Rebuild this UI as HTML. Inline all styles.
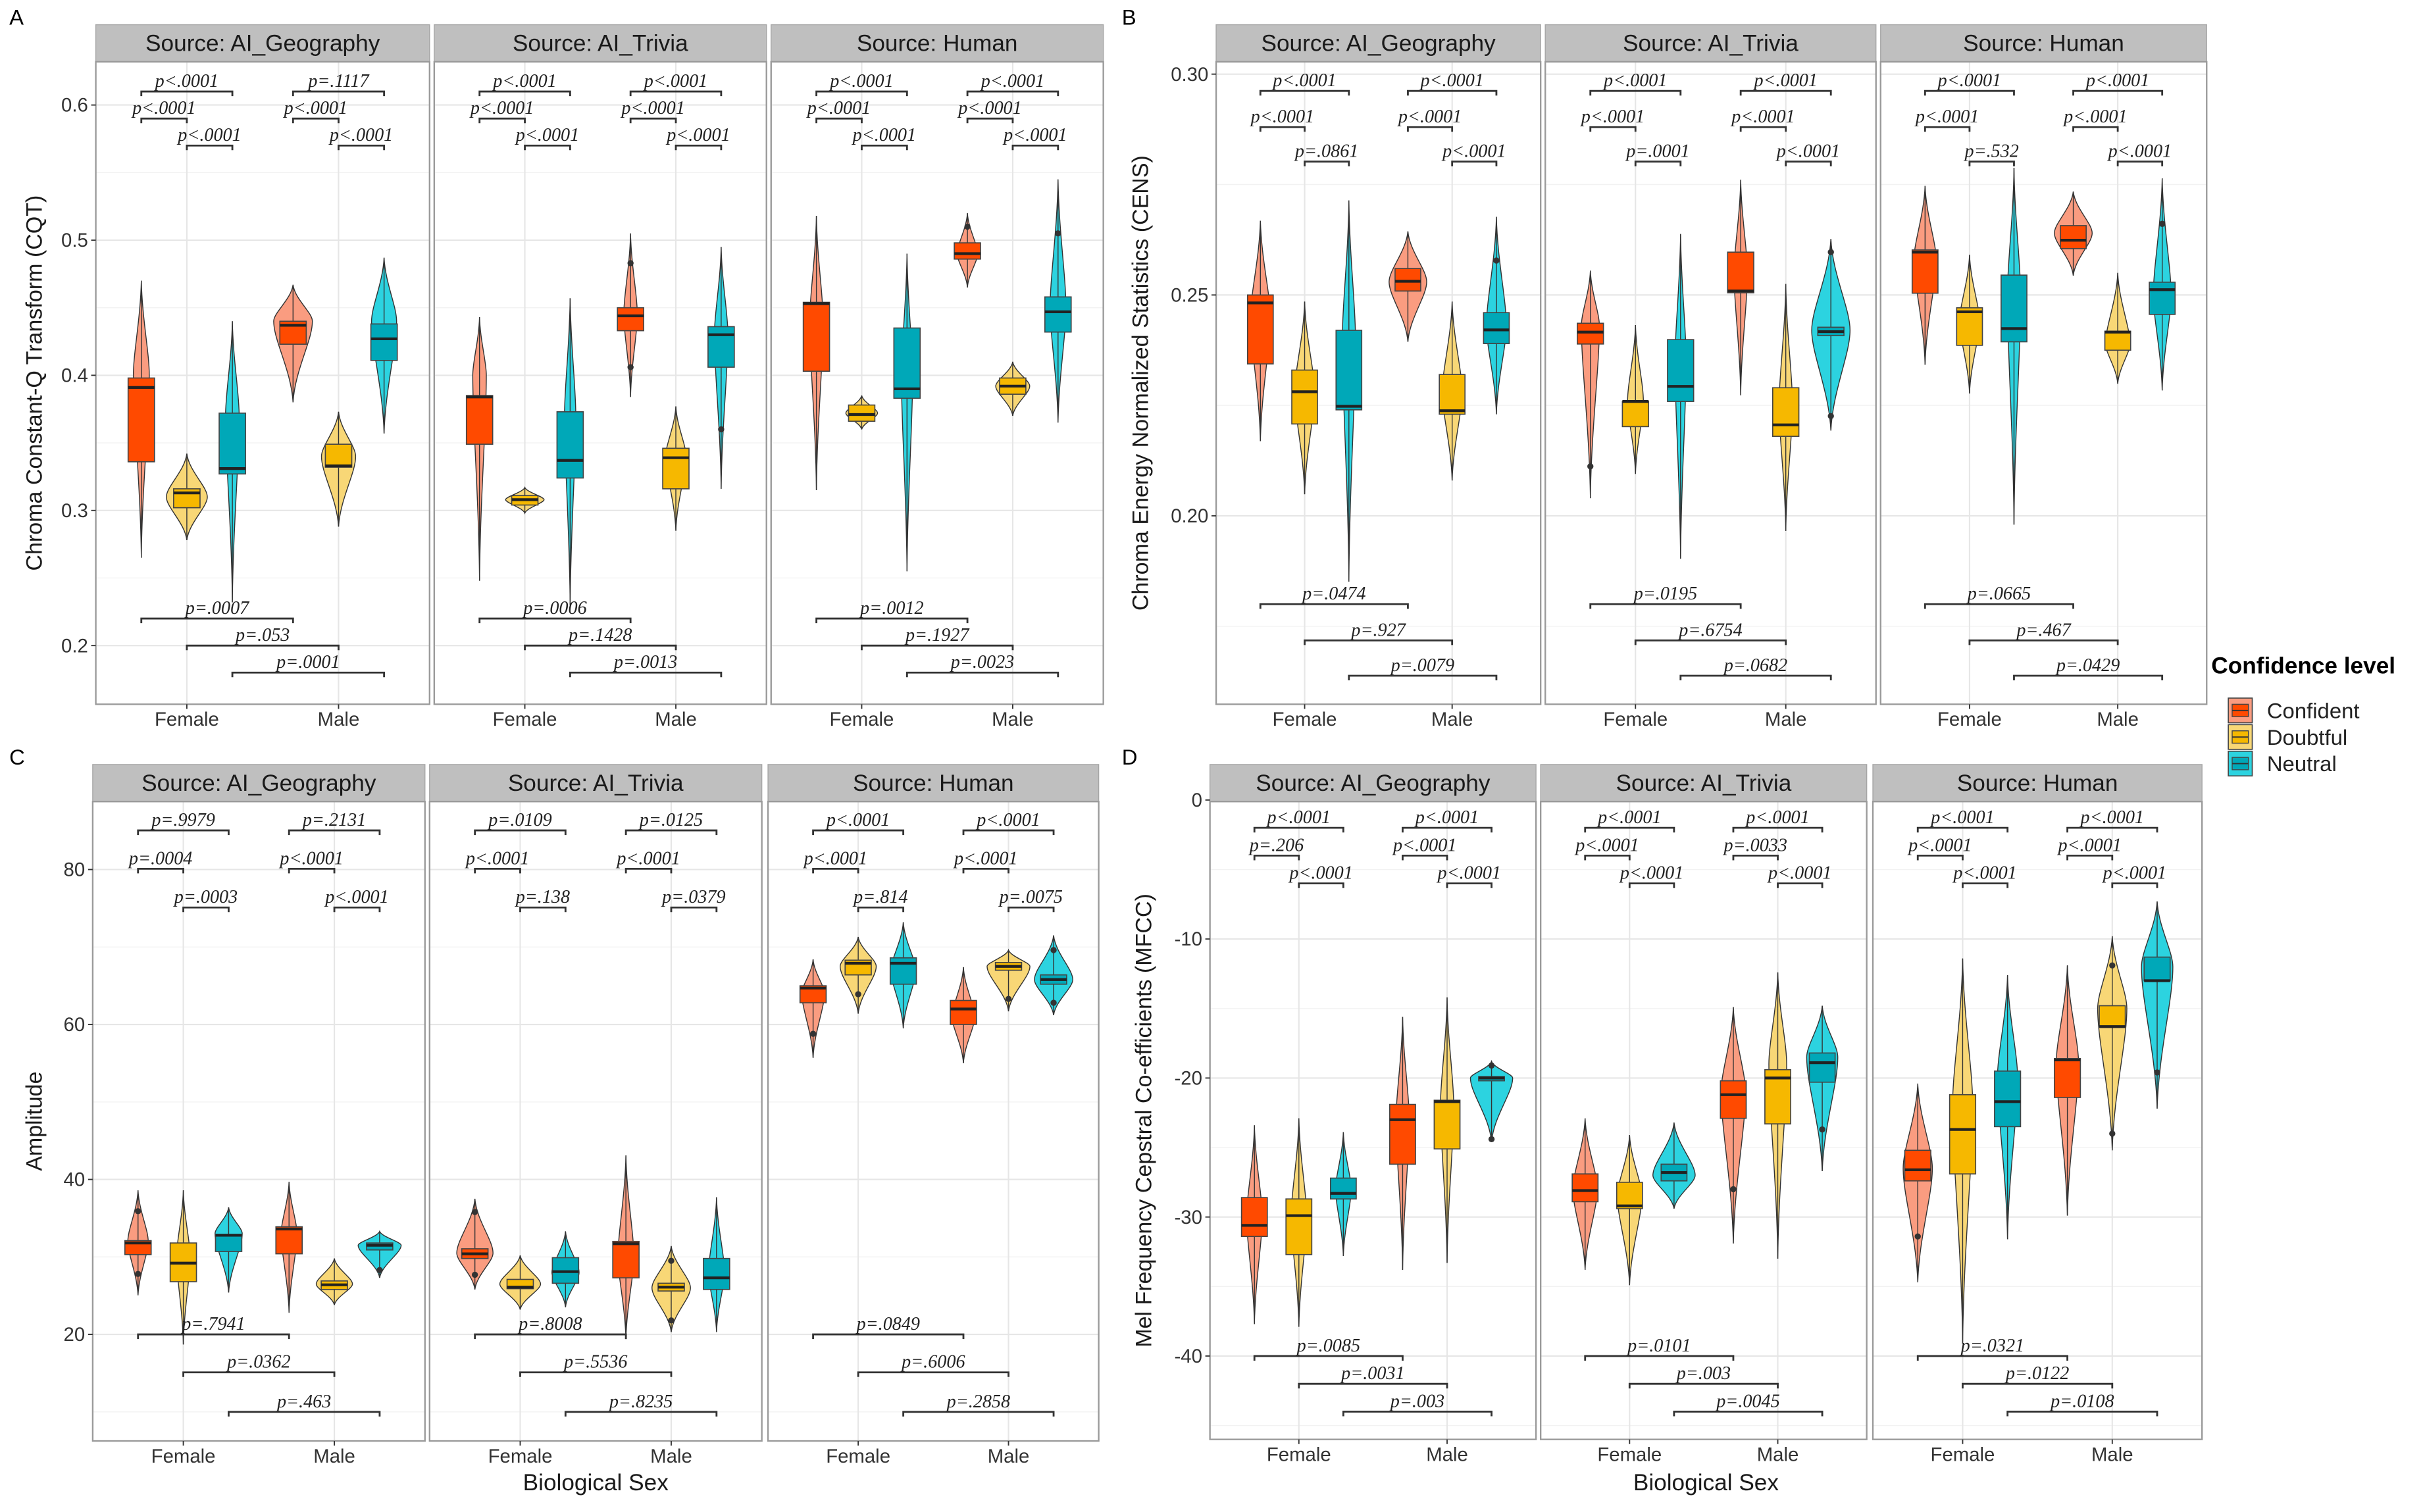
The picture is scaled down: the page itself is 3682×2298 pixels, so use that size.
<!DOCTYPE html>
<html><head><meta charset="utf-8"><style>
html,body{margin:0;padding:0;background:#fff;}
svg{display:block;}
</style></head><body>
<svg id="chart" xmlns="http://www.w3.org/2000/svg" width="3682" height="2298" viewBox="0 0 1568 979" preserveAspectRatio="none"></svg>
<script>
// ---------- shared categories ----------
const facetNames = ["Source: AI_Geography","Source: AI_Trivia","Source: Human"];
const sexes = ["Female","Male"];
const levels = ["Confident","Doubtful","Neutral"];
// group order per facet: F-Conf, F-Doubt, F-Neut, M-Conf, M-Doubt, M-Neut

// ---------- Panel A (CQT) ----------
const A_q1 = [[0.336,0.302,0.327,0.423,0.332,0.411],[0.349,0.304,0.324,0.433,0.316,0.406],[0.403,0.366,0.383,0.486,0.386,0.432]];
const A_med = [[0.391,0.313,0.331,0.437,0.333,0.427],[0.384,0.308,0.337,0.444,0.339,0.430],[0.453,0.371,0.390,0.490,0.392,0.447]];
const A_q3 = [[0.398,0.316,0.372,0.440,0.349,0.438],[0.385,0.311,0.373,0.450,0.346,0.436],[0.454,0.378,0.435,0.498,0.398,0.458]];
const A_vmin = [[0.265,0.278,0.232,0.380,0.288,0.357],[0.248,0.298,0.230,0.384,0.285,0.316],[0.315,0.360,0.255,0.465,0.370,0.365]];
const A_vmax = [[0.470,0.342,0.440,0.467,0.373,0.487],[0.443,0.317,0.457,0.505,0.377,0.495],[0.518,0.385,0.490,0.520,0.410,0.545]];
const A_vmode = [[0.400,0.310,0.370,0.440,0.340,0.440],[0.400,0.308,0.370,0.445,0.340,0.430],[0.440,0.372,0.400,0.490,0.392,0.450]];
const A_vw = [[0.35,0.9,0.3,0.85,0.75,0.55],[0.3,0.85,0.25,0.3,0.45,0.3],[0.3,0.7,0.25,0.45,0.75,0.35]];
const A_out = [[],[[3,0.483],[3,0.406],[5,0.36]],[[3,0.51],[5,0.505]]];
const A_pF = [["p<.0001","p<.0001","p<.0001"],["p<.0001","p<.0001","p<.0001"],["p<.0001","p<.0001","p<.0001"]];
const A_pM = [["p=.1117","p<.0001","p<.0001"],["p<.0001","p<.0001","p<.0001"],["p<.0001","p<.0001","p<.0001"]];
const A_pB = [["p=.0007","p=.053","p=.0001"],["p=.0006","p=.1428","p=.0013"],["p=.0012","p=.1927","p=.0023"]];
const A_ticks = [0.2,0.3,0.4,0.5,0.6];
const A_tickLabels = ["0.2","0.3","0.4","0.5","0.6"];

// ---------- Panel B (CENS) ----------
const B_q1 = [[0.2344,0.2208,0.224,0.2509,0.223,0.239],[0.2389,0.2202,0.2259,0.2505,0.218,0.2408],[0.2504,0.2386,0.2394,0.2605,0.2375,0.2456]];
const B_med = [[0.2482,0.2281,0.2248,0.2531,0.2238,0.2421],[0.2416,0.2259,0.2293,0.2509,0.2206,0.2417],[0.2597,0.2462,0.2424,0.2624,0.2416,0.2512]];
const B_q3 = [[0.250,0.233,0.242,0.256,0.232,0.246],[0.2436,0.2259,0.2399,0.2597,0.229,0.2427],[0.2602,0.2471,0.2545,0.2657,0.2418,0.2529]];
const B_vmin = [[0.2169,0.2049,0.1851,0.2394,0.208,0.223],[0.204,0.2095,0.1903,0.2273,0.1966,0.2193],[0.2342,0.2277,0.198,0.2544,0.2299,0.2284]];
const B_vmax = [[0.2668,0.2485,0.2714,0.2644,0.2485,0.2677],[0.2555,0.2432,0.2638,0.2761,0.2525,0.2627],[0.2747,0.2591,0.2788,0.2734,0.255,0.2764]];
const B_vmode = [[0.245,0.228,0.24,0.253,0.228,0.243],[0.243,0.226,0.235,0.255,0.225,0.242],[0.258,0.244,0.25,0.264,0.239,0.25]];
const B_vw = [[0.45,0.45,0.3,0.85,0.45,0.45],[0.4,0.35,0.25,0.3,0.3,0.85],[0.5,0.45,0.3,0.85,0.55,0.4]];
const B_out = [[[5,0.2578]],[[0,0.2112],[5,0.2597],[5,0.2226]],[[5,0.2661]]];
const B_pF = [["p<.0001","p<.0001","p=.0861"],["p<.0001","p<.0001","p=.0001"],["p<.0001","p<.0001","p=.532"]];
const B_pM = [["p<.0001","p<.0001","p<.0001"],["p<.0001","p<.0001","p<.0001"],["p<.0001","p<.0001","p<.0001"]];
const B_pB = [["p=.0474","p=.927","p=.0079"],["p=.0195","p=.6754","p=.0682"],["p=.0665","p=.467","p=.0429"]];
const B_ticks = [0.20,0.25,0.30];
const B_tickLabels = ["0.20","0.25","0.30"];

// ---------- Panel C (Amplitude) ----------
const C_q1 = [[30.3,26.8,30.7,30.4,25.8,30.9],[29.8,25.9,26.6,27.3,25.6,25.8],[62.8,66.4,65.2,60.0,67.0,65.2]];
const C_med = [[31.8,29.2,32.8,33.6,26.4,31.5],[30.4,26.1,28.1,31.7,26.1,27.3],[64.7,67.9,67.9,62.0,67.5,65.8]];
const C_q3 = [[32.1,31.8,32.9,33.9,26.9,31.8],[31.05,27.1,29.9,32.0,26.6,29.8],[65.0,68.3,68.6,63.1,68.0,66.4]];
const C_vmin = [[25.05,18.7,25.4,22.8,23.8,27.3],[25.8,23.2,23.5,19.4,20.3,20.3],[55.7,61.4,59.5,55.0,61.7,61.2]];
const C_vmax = [[38.6,38.6,36.4,39.7,29.8,33.3],[37.5,30.2,33.3,43.1,31.4,37.7],[68.4,71.3,73.2,67.4,69.6,71.5]];
const C_vmode = [[32,30,33,33,26.5,31.5],[30.5,26.5,28,30,26,28],[64,67.5,67,61,67.5,65.8]];
const C_vw = [[0.45,0.3,0.6,0.35,0.8,0.95],[0.8,0.9,0.6,0.35,0.85,0.35],[0.5,0.8,0.55,0.5,0.95,0.85]];
const C_out = [[[0,35.9],[0,27.8],[5,28.3]],[[0,35.8],[0,27.7],[4,29.5],[4,21.8]],[[0,58.8],[1,63.9],[4,63.3],[5,69.6],[5,62.8]]];
const C_pF = [["p=.9979","p=.0004","p=.0003"],["p=.0109","p<.0001","p=.138"],["p<.0001","p<.0001","p=.814"]];
const C_pM = [["p=.2131","p<.0001","p<.0001"],["p=.0125","p<.0001","p=.0379"],["p<.0001","p<.0001","p=.0075"]];
const C_pB = [["p=.7941","p=.0362","p=.463"],["p=.8008","p=.5536","p=.8235"],["p=.0849","p=.6006","p=.2858"]];
const C_ticks = [20,40,60,80];
const C_tickLabels = ["20","40","60","80"];

// ---------- Panel D (MFCC) ----------
const D_q1 = [[-31.4,-32.7,-28.7,-26.2,-25.1,-20.2],[-28.9,-29.4,-27.4,-22.9,-23.3,-20.3],[-27.4,-26.9,-23.5,-21.4,-16.3,-13.0]];
const D_med = [[-30.6,-29.9,-28.3,-23.0,-21.7,-20.0],[-28.1,-29.2,-26.8,-21.2,-20.0,-18.9],[-26.6,-23.7,-21.7,-18.7,-16.3,-13.0]];
const D_q3 = [[-28.6,-28.7,-27.2,-21.9,-21.6,-19.9],[-26.9,-27.5,-26.2,-20.2,-19.4,-18.2],[-25.2,-21.2,-19.5,-18.6,-14.8,-11.3]];
const D_vmin = [[-37.7,-37.9,-32.8,-33.8,-33.3,-24.6],[-33.8,-34.9,-29.4,-31.9,-33.0,-26.7],[-34.7,-39.1,-31.6,-29.9,-25.2,-22.2]];
const D_vmax = [[-23.4,-22.9,-23.9,-15.6,-14.2,-18.8],[-22.9,-24.1,-23.2,-14.9,-12.4,-14.8],[-20.4,-11.4,-12.6,-11.9,-9.8,-7.3]];
const D_vmode = [[-30,-30,-28,-23,-22,-20],[-28,-28.5,-27,-21,-19,-18.5],[-26.5,-22,-20,-19,-15,-12]];
const D_vw = [[0.35,0.35,0.35,0.3,0.3,0.95],[0.55,0.55,0.95,0.55,0.4,0.7],[0.65,0.45,0.45,0.5,0.65,0.7]];
const D_out = [[[5,-24.4],[5,-19.1]],[[3,-28],[5,-23.7]],[[0,-31.4],[4,-11.9],[4,-24],[5,-19.6]]];
const D_pF = [["p<.0001","p=.206","p<.0001"],["p<.0001","p<.0001","p<.0001"],["p<.0001","p<.0001","p<.0001"]];
const D_pM = [["p<.0001","p<.0001","p<.0001"],["p<.0001","p=.0033","p<.0001"],["p<.0001","p<.0001","p<.0001"]];
const D_pB = [["p=.0085","p=.0031","p=.003"],["p=.0101","p=.003","p=.0045"],["p=.0321","p=.0122","p=.0108"]];
const D_ticks = [-40,-30,-20,-10,0];
const D_tickLabels = ["-40","-30","-20","-10","0"];

// ---------- styles / layout ----------
const violinFill = ["#FA9C80","#F8D776","#2CD3E0"];
const boxFill = ["#FF4A00","#F6B800","#00A8B8"];
const NS = "http://www.w3.org/2000/svg";
const svg = document.getElementById('chart');
function mk(tag, attrs, parent){
  const e = document.createElementNS(NS, tag);
  for (const k in attrs) e.setAttribute(k, attrs[k]);
  (parent||svg).appendChild(e);
  return e;
}
function txt(str, attrs, parent){ const t = mk('text', attrs, parent); t.textContent = str; return t; }

const panels = [
 {key:'A', letter:[6,16], fx:[[62,278],[281,496],[499,714]], top:40, bot:456, v1:0.6, y1:68, v2:0.2, y2:418,
  ticks:A_ticks, tl:A_tickLabels, minorStep:0.05, title:"Chroma Constant-Q Transform (CQT)", tx:27,
  q1:A_q1, med:A_med, q3:A_q3, vmin:A_vmin, vmax:A_vmax, vmode:A_vmode, vw:A_vw, out:A_out, pF:A_pF, pM:A_pM, pB:A_pB,
  top3:[0.61,0.59,0.57], bot3:[0.22,0.20,0.18], xlab:false},
 {key:'B', letter:[726,16], fx:[[787,997],[1000,1214],[1217,1428]], top:40, bot:456, v1:0.30, y1:48, v2:0.20, y2:334,
  ticks:B_ticks, tl:B_tickLabels, minorStep:0.025, title:"Chroma Energy Normalized Statistics (CENS)", tx:743,
  q1:B_q1, med:B_med, q3:B_q3, vmin:B_vmin, vmax:B_vmax, vmode:B_vmode, vw:B_vw, out:B_out, pF:B_pF, pM:B_pM, pB:B_pB,
  top3:[0.2962,0.288,0.2802], bot3:[0.18,0.1718,0.1638], xlab:false},
 {key:'C', letter:[6,495], fx:[[60,275],[278,493],[497,711]], top:519, bot:933, v1:80, y1:563, v2:20, y2:864,
  ticks:C_ticks, tl:C_tickLabels, minorStep:10, title:"Amplitude", tx:27,
  q1:C_q1, med:C_med, q3:C_q3, vmin:C_vmin, vmax:C_vmax, vmode:C_vmode, vw:C_vw, out:C_out, pF:C_pF, pM:C_pM, pB:C_pB,
  top3:[85.05,80.1,75.1], bot3:[20,15.1,10], xlab:true},
 {key:'D', letter:[726,495], fx:[[783,994],[997,1208],[1212,1425]], top:519, bot:932, v1:0, y1:518, v2:-40, y2:878,
  ticks:D_ticks, tl:D_tickLabels, minorStep:5, title:"Mel Frequency Cepstral Co-efficients (MFCC)", tx:745,
  q1:D_q1, med:D_med, q3:D_q3, vmin:D_vmin, vmax:D_vmax, vmode:D_vmode, vw:D_vw, out:D_out, pF:D_pF, pM:D_pM, pB:D_pB,
  top3:[-2,-4,-6], bot3:[-40,-42,-44], xlab:true}
];

const SANS = '"Liberation Sans", sans-serif';
const SERIF = '"Liberation Serif", serif';

function violinPath(cx, yT, yB, yM, w){
  const a=(yM-yT)*0.4, b=(yB-yM)*0.4;
  return `M${cx},${yT} C${cx+w*0.1},${yT+a} ${cx+w},${yM-a*0.6} ${cx+w},${yM} C${cx+w},${yM+b*0.6} ${cx+w*0.1},${yB-b} ${cx},${yB} `+
         `C${cx-w*0.1},${yB-b} ${cx-w},${yM+b*0.6} ${cx-w},${yM} C${cx-w},${yM-a*0.6} ${cx-w*0.1},${yT+a} ${cx},${yT} Z`;
}

panels.forEach(P => {
  const g = mk('g', {});
  
  
  const yS = v => P.y1 + (v - P.v1) * (P.y2 - P.y1) / (P.v2 - P.v1);
  const vTop = P.v1 + (P.top - P.y1) * (P.v2 - P.v1) / (P.y2 - P.y1);
  const vBot = P.v1 + (P.bot - P.y1) * (P.v2 - P.v1) / (P.y2 - P.y1);

  const letter = txt(P.key, {x:P.letter[0], y:P.letter[1], 'font-family':SANS, 'font-size':14, fill:'#000'}, g);
  
  

  const yt = txt(P.title, {x:0, y:0, transform:`translate(${P.tx},${(P.top+P.bot)/2}) rotate(-90)`, 'text-anchor':'middle', 'font-family':SANS, 'font-size':14.5, fill:'#1a1a1a'}, g);
  
  

  P.fx.forEach((fx, fi) => {
    const [x0, x1] = fx;
    const W = x1 - x0, unit = W / 2.2;
    const fg = mk('g', {}, g);
    
    
    mk('rect', {x:x0, y:P.top, width:W, height:P.bot-P.top, fill:'#fff'}, fg);
    const lo = Math.min(vTop, vBot), hi = Math.max(vTop, vBot);
    for (let v = Math.ceil(lo / P.minorStep) * P.minorStep; v <= hi + 1e-9; v += P.minorStep) {
      mk('line', {x1:x0, x2:x1, y1:yS(v), y2:yS(v), stroke:'#f2f2f2', 'stroke-width':0.6}, fg);
    }
    P.ticks.forEach(v => mk('line', {x1:x0, x2:x1, y1:yS(v), y2:yS(v), stroke:'#e6e6e6', 'stroke-width':0.9}, fg));
    const sx = s => x0 + (0.6 + s) * unit;
    sexes.forEach((s, si) => mk('line', {x1:sx(si), x2:sx(si), y1:P.top, y2:P.bot, stroke:'#e6e6e6', 'stroke-width':0.9}, fg));

    const strip = mk('rect', {x:x0, y:P.top-24, width:W, height:24, fill:'#bfbfbf', stroke:'#a6a6a6', 'stroke-width':0.6}, fg);
    
    
    const st = txt(facetNames[fi], {x:(x0+x1)/2, y:P.top-7, 'text-anchor':'middle', 'font-family':SANS, 'font-size':15, fill:'#1a1a1a'}, fg);
    
    

    const gx = gi => sx(Math.floor(gi/3)) + ((gi%3) - 1) * 0.3 * unit;
    const vHalf = 0.15 * unit, bHalf = 0.087 * unit;

    for (let gi = 0; gi < 6; gi++) {
      const li = gi % 3, cx = gx(gi);
      const grp = mk('g', {}, fg);
      
      
      const vp = mk('path', {d:violinPath(cx, yS(P.vmax[fi][gi]), yS(P.vmin[fi][gi]), yS(P.vmode[fi][gi]), vHalf*P.vw[fi][gi]), fill:violinFill[li], stroke:'#333', 'stroke-width':0.6}, grp);
      
      
      const wl = mk('line', {x1:cx, x2:cx, y1:yS(P.vmax[fi][gi]), y2:yS(P.vmin[fi][gi]), stroke:'#333', 'stroke-width':0.6}, grp);
      
      
      const yq3 = yS(P.q3[fi][gi]), yq1 = yS(P.q1[fi][gi]);
      const bx = mk('rect', {x:cx-bHalf, y:Math.min(yq3,yq1), width:2*bHalf, height:Math.abs(yq1-yq3), fill:boxFill[li], stroke:'#444', 'stroke-width':0.7}, grp);
      
      
      const md = mk('line', {x1:cx-bHalf, x2:cx+bHalf, y1:yS(P.med[fi][gi]), y2:yS(P.med[fi][gi]), stroke:'#222', 'stroke-width':1.8}, grp);
      
      
    }
    P.out[fi].forEach(o => {
      const c = mk('circle', {cx:gx(o[0]), cy:yS(o[1]), r:2, fill:'#333'}, fg);
      
      
    });

    function bracket(xa, xb, yv, label){
      const y = yS(yv);
      const bg = mk('g', {}, fg);
      
      
      mk('path', {d:`M${xa},${y+3} V${y} H${xb} V${y+3}`, fill:'none', stroke:'#333', 'stroke-width':1.2}, bg);
      const t = txt(label, {x:(xa+xb)/2, y:y-3, 'text-anchor':'middle', 'font-family':SERIF, 'font-style':'italic', 'font-size':12, fill:'#222'}, bg);
      
      
    }
    [P.pF[fi], P.pM[fi]].forEach((lab, si) => {
      const b = si*3;
      bracket(gx(b), gx(b+2), P.top3[0], lab[0]);
      bracket(gx(b), gx(b+1), P.top3[1], lab[1]);
      bracket(gx(b+1), gx(b+2), P.top3[2], lab[2]);
    });
    for (let k = 0; k < 3; k++) bracket(gx(k), gx(k+3), P.bot3[k], P.pB[fi][k]);

    mk('rect', {x:x0, y:P.top, width:W, height:P.bot-P.top, fill:'none', stroke:'#9a9a9a', 'stroke-width':1}, fg);

    sexes.forEach((s, si) => {
      mk('line', {x1:sx(si), x2:sx(si), y1:P.bot, y2:P.bot+3, stroke:'#333', 'stroke-width':0.8}, fg);
      const xl = txt(s, {x:sx(si), y:P.bot+14, 'text-anchor':'middle', 'font-family':SANS, 'font-size':12.5, fill:'#333'}, fg);
      
      
    });

    if (fi === 0) {
      P.ticks.forEach((v, ti) => {
        mk('line', {x1:x0-3, x2:x0, y1:yS(v), y2:yS(v), stroke:'#333', 'stroke-width':0.8}, fg);
        const tl = txt(P.tl[ti], {x:x0-5, y:yS(v)+4.3, 'text-anchor':'end', 'font-family':SANS, 'font-size':12.5, fill:'#333'}, fg);
        
        
      });
    }
  });

  if (P.xlab) {
    const xt = txt("Biological Sex", {x:(P.fx[0][0]+P.fx[2][1])/2, y:965, 'text-anchor':'middle', 'font-family':SANS, 'font-size':15, fill:'#1a1a1a'}, g);
    
    
  }
});

const lg = mk('g', {});


const lt = txt("Confidence level", {x:1431, y:436, 'font-family':SANS, 'font-weight':'bold', 'font-size':15, fill:'#000'}, lg);


levels.forEach((lv, i) => {
  const y = 452 + i * 17.2;
  const e = mk('g', {}, lg);
  
  
  mk('rect', {x:1442, y:y, width:15.5, height:16, fill:violinFill[i], stroke:'#444', 'stroke-width':0.7}, e);
  mk('rect', {x:1444.5, y:y+4, width:10.5, height:8, fill:boxFill[i], stroke:'#444', 'stroke-width':0.6}, e);
  mk('line', {x1:1444.5, x2:1455, y1:y+8, y2:y+8, stroke:'#333', 'stroke-width':0.8}, e);
  txt(lv, {x:1467, y:y+13, 'font-family':SANS, 'font-size':14, fill:'#222'}, e);
});
</script>
</body></html>
